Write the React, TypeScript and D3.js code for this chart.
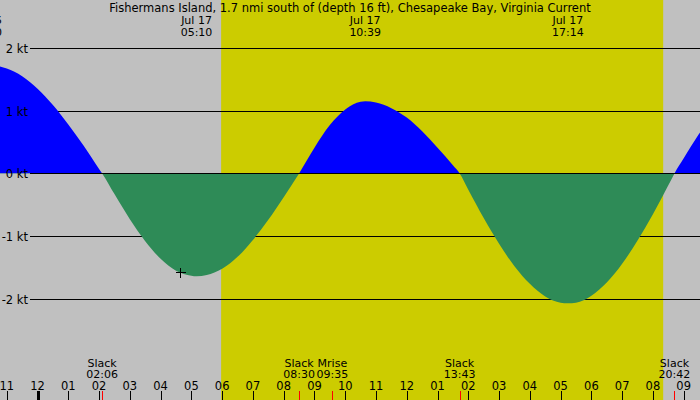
import React, { useRef, useEffect } from 'react'
import * as d3 from 'd3'

// current readings, hours from midnight Jul 17, knots (+ flood / - ebb)
const hours = [-1.5, -1, -0.5, 0, 0.5, 1, 1.5, 2, 2.1, 2.5, 3, 3.5, 4, 4.5, 5, 5.17, 5.5, 6, 6.5, 7, 7.5, 8, 8.5,
    9, 9.5, 10, 10.5, 10.65, 11, 11.5, 12, 12.5, 13, 13.5, 13.72, 14, 14.5, 15, 15.5, 16, 16.5, 17, 17.23,
    17.5, 18, 18.5, 19, 19.5, 20, 20.5, 20.7, 21, 21.5, 22]
const knots = [1.73, 1.67, 1.55, 1.35, 1.09, 0.78, 0.44, 0.07, 0, -0.33, -0.73, -1.08, -1.36, -1.55, -1.63, -1.64,
    -1.62, -1.52, -1.33, -1.06, -0.74, -0.38, 0, 0.41, 0.77, 1.02, 1.14, 1.15, 1.13, 1.04, 0.89, 0.67, 0.41, 0.13, 0,
    -0.26, -0.71, -1.12, -1.48, -1.76, -1.96, -2.06, -2.07, -2.06, -1.95, -1.74, -1.44, -1.07, -0.65, -0.19, 0,
    0.24, 0.63, 0.98]

const title = 'Fishermans Island, 1.7 nmi south of (depth 16 ft), Chesapeake Bay, Virginia Current'
const yTicks = [2, 1, 0, -1, -2]

// max current labels along the top
const maxDates = ['Jul 16', 'Jul 17', 'Jul 17', 'Jul 17']
const maxTimes = ['22:20', '05:10', '10:39', '17:14']
const maxDayOffset = [-1, 0, 0, 0]

// events along the bottom
const eventNames = ['Slack', 'Slack', 'Mrise', 'Slack', 'Slack']
const eventTimes = ['02:06', '08:30', '09:35', '13:43', '20:42']

const sunTimes = ['05:58', '20:20']
const hourLabels = ['11', '12', '01', '02', '03', '04', '05', '06', '07', '08', '09', '10', '11', '12',
    '01', '02', '03', '04', '05', '06', '07', '08', '09']

const marker = { hour: 4.63, knots: -1.57 }

function toHours(s: string, dayOffset = 0) {
    const [h, m] = s.split(':').map(Number)
    return h + m / 60 + dayOffset * 24
}

export default function App() {
    const svgRef = useRef<SVGSVGElement>(null)
    const width = 700, height = 400

    useEffect(() => {
        const svg = d3.select(svgRef.current)
        svg.selectAll('*').remove()
        const font = '"DejaVu Sans", sans-serif'
        const fs = '11.5px'
        const fsSmall = '11px'

        const x = d3.scaleLinear().domain([-1.22, 21.53]).range([0, width])
        const y = d3.scaleLinear().domain([-2, 2]).range([298.9, 47.9])

        // background + daylight
        svg.append('rect').attr('width', width).attr('height', height).attr('fill', '#c0c0c0')
        const sr = toHours(sunTimes[0]), ss = toHours(sunTimes[1])
        svg.append('rect')
            .attr('x', x(sr)).attr('y', 0)
            .attr('width', x(ss) - x(sr)).attr('height', height)
            .attr('fill', '#cccc00')

        // grid lines
        svg.selectAll('line.grid').data(yTicks.filter(d => d !== 0)).enter()
            .append('line')
            .attr('x1', 30).attr('x2', width)
            .attr('y1', d => Math.round(y(d)) + 0.5).attr('y2', d => Math.round(y(d)) + 0.5)
            .attr('stroke', 'black').attr('shape-rendering', 'crispEdges')

        const pts = hours.map((h, i) => ({ h, v: knots[i] }))
        const area = d3.area<{ h: number, v: number }>()
            .x(d => x(d.h)).y0(y(0)).y1(d => y(d.v))
            .curve(d3.curveMonotoneX)

        const defs = svg.append('defs')
        defs.append('clipPath').attr('id', 'above')
            .append('rect').attr('x', 0).attr('y', 0).attr('width', width).attr('height', y(0))
        defs.append('clipPath').attr('id', 'below')
            .append('rect').attr('x', 0).attr('y', y(0)).attr('width', width).attr('height', height - y(0))

        svg.append('path').attr('d', area(pts)).attr('fill', '#0000ff').attr('clip-path', 'url(#above)')
        svg.append('path').attr('d', area(pts)).attr('fill', '#2e8b57').attr('clip-path', 'url(#below)')

        // zero line on top
        svg.append('line')
            .attr('x1', 30).attr('x2', width)
            .attr('y1', Math.round(y(0)) + 0.5).attr('y2', Math.round(y(0)) + 0.5)
            .attr('stroke', 'black').attr('shape-rendering', 'crispEdges')

        // y labels
        svg.selectAll('text.ylab').data(yTicks).enter()
            .append('text')
            .attr('x', 28).attr('y', d => Math.round(y(d)) + 4.5)
            .attr('text-anchor', 'end')
            .style('font-family', font).style('font-size', fs)
            .text(d => `${d} kt`)

        // title
        svg.append('text')
            .attr('x', 350).attr('y', 12).attr('text-anchor', 'middle')
            .style('font-family', font).style('font-size', fs)
            .text(title)

        // max labels
        maxTimes.forEach((t, i) => {
            const cx = x(toHours(t, maxDayOffset[i]))
            const g = svg.append('g').style('font-family', font).style('font-size', fsSmall)
                .attr('text-anchor', 'middle')
            g.append('text').attr('x', cx).attr('y', 23.5).text(maxDates[i])
            g.append('text').attr('x', cx).attr('y', 35.5).text(t)
        })

        // event labels + red ticks
        eventTimes.forEach((t, i) => {
            const cx = x(toHours(t))
            const g = svg.append('g').style('font-family', font).style('font-size', fsSmall)
                .attr('text-anchor', 'middle')
            g.append('text').attr('x', cx).attr('y', 366.5).text(eventNames[i])
            g.append('text').attr('x', cx).attr('y', 378).text(t)
            svg.append('line')
                .attr('x1', Math.round(cx) + 0.5).attr('x2', Math.round(cx) + 0.5)
                .attr('y1', 391).attr('y2', height)
                .attr('stroke', 'red').attr('shape-rendering', 'crispEdges')
        })

        // hour ticks
        hourLabels.forEach((lab, i) => {
            const h = i - 1
            const cx = x(h)
            const midnight = h === 0
            svg.append('line')
                .attr('x1', Math.round(cx) + 0.5).attr('x2', Math.round(cx) + 0.5)
                .attr('y1', 391).attr('y2', height)
                .attr('stroke', 'black').attr('stroke-width', midnight ? 3 : 1)
                .attr('shape-rendering', 'crispEdges')
            svg.append('text')
                .attr('x', cx).attr('y', 389.5).attr('text-anchor', 'middle')
                .style('font-family', font).style('font-size', fs)
                .text(lab)
        })

        // current-time cross
        const mx = Math.round(x(marker.hour)) + 0.5, my = Math.round(y(marker.knots)) + 0.5
        svg.append('path')
            .attr('d', `M${mx - 5},${my}H${mx + 5}M${mx},${my - 5}V${my + 5}`)
            .attr('stroke', 'black').attr('shape-rendering', 'crispEdges')
    }, [])

    return (
        <svg ref={svgRef} width={width} height={height}
            style={{ position: 'absolute', left: 0, top: 0, display: 'block' }} />
    )
}
